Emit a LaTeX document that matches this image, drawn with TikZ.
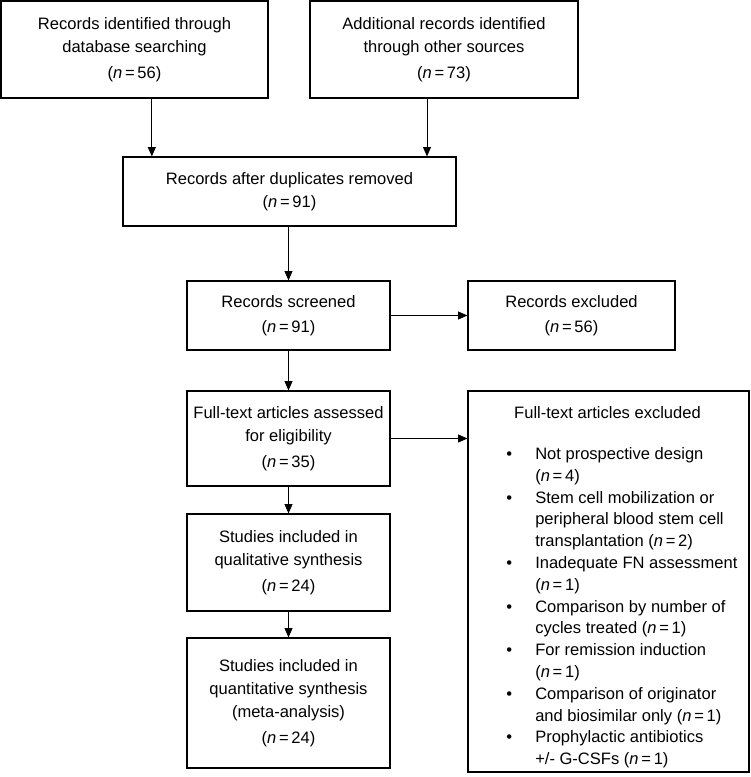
\documentclass[tikz,border=0pt]{standalone}
\usepackage{fontspec}
\setmainfont{Liberation Sans}
\usetikzlibrary{arrows.meta}
\def\nval#1{(\textit{n}\,=\,#1)}

\begin{document}
\begin{tikzpicture}[x=0.75pt, y=-0.75pt,
		box/.style={draw, line width=0.9pt, align=center, inner sep=0pt, font=\fontsize{12.4}{17.25}\selectfont},
		lbl/.style={inner sep=0pt, font=\fontsize{12.4}{16.35}\selectfont},
		arr/.style={line width=0.7pt, -{Triangle[length=7pt, width=6pt]}}]
		%%%%% START %%%%%
		
		\useasboundingbox (0, 0) rectangle (750, 777);
		
		\node[box, minimum width=200.25pt, minimum height=72.75pt] (db) at (134.5, 49.5) {Records identified through\\database searching\\[2.5pt]\nval{56}};
		\node[box, minimum width=201pt, minimum height=72.75pt] (other) at (444, 49.5) {Additional records identified\\through other sources\\[2.5pt]\nval{73}};
		
		\node[box, minimum width=249.75pt, minimum height=51.75pt] (dedup) at (289.5, 191.5) {Records after duplicates removed\\\nval{91}};
		
		\node[box, minimum width=152.25pt, minimum height=51.75pt] (screen) at (288.5, 315.5) {Records screened\\[1.5pt]\nval{91}};
		\node[box, minimum width=155.25pt, minimum height=51.75pt] (excl1) at (571.5, 315.5) {Records excluded\\[1.5pt]\nval{56}};
		
		\node[box, minimum width=152.25pt, minimum height=71.25pt] (full) at (288.5, 438.5) {Full-text articles assessed\\for eligibility\\[2pt]\nval{35}};
		\node[box, minimum width=210.75pt, minimum height=285.75pt] (excl2) at (608.5, 581.5) {};
		\node[lbl] (excl2title) at (607.5, 413) {Full-text articles excluded};
		\node[lbl, anchor=north west] (excl2list) at (506, 444) {\begin{tabular}{@{}p{21.75pt}@{}l@{}}
			\textbullet & Not prospective design\\
			& \nval{4}\\
			\textbullet & Stem cell mobilization or\\
			& peripheral blood stem cell\\
			& transplantation \nval{2}\\
			\textbullet & Inadequate FN assessment\\
			& \nval{1}\\
			\textbullet & Comparison by number of\\
			& cycles treated \nval{1}\\
			\textbullet & For remission induction\\
			& \nval{1}\\
			\textbullet & Comparison of originator\\
			& and biosimilar only \nval{1}\\
			\textbullet & Prophylactic antibiotics\\
			& +/- G-CSFs \nval{1}
		\end{tabular}};
		
		\node[box, minimum width=152.25pt, minimum height=72.75pt] (qual) at (288.5, 562.5) {Studies included in\\qualitative synthesis\\[2.5pt]\nval{24}};
		\node[box, minimum width=152.25pt, minimum height=97.5pt] (quant) at (288.5, 703) {Studies included in\\quantitative synthesis\\(meta-analysis)\\[2.5pt]\nval{24}};
		
		\draw[arr] ([xshift=13pt]db.south) -- ([xshift=13pt]db.south |- dedup.north);
		\draw[arr] ([xshift=-12.75pt]other.south) -- ([xshift=-12.75pt]other.south |- dedup.north);
		\draw[arr] (screen.north |- dedup.south) -- (screen.north);
		\draw[arr] (screen) -- (excl1);
		\draw[arr] (screen) -- (full);
		\draw[arr] (full.east) -- (full.east -| excl2.west);
		\draw[arr] (full) -- (qual);
		\draw[arr] (qual) -- (quant);
		
		%%%%% END %%%%%
\end{tikzpicture}
\end{document}
